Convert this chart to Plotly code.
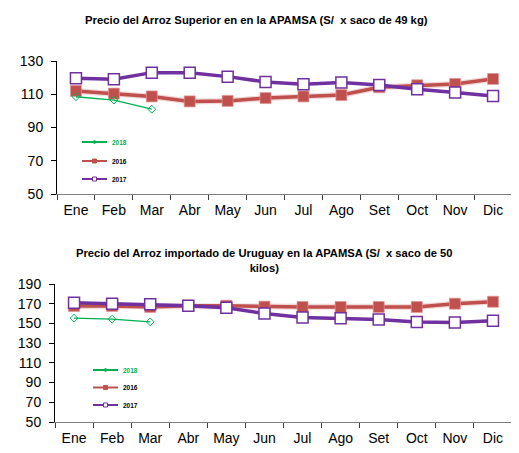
import plotly.graph_objects as go

months = ["Ene", "Feb", "Mar", "Abr", "May", "Jun", "Jul", "Ago", "Set", "Oct", "Nov", "Dic"]

# Chart 1: Arroz Superior (S/ x saco de 49 kg)
sup_2016 = [112.0, 110.4, 108.7, 105.7, 106.0, 107.7, 108.7, 109.5, 114.2, 115.4, 116.2, 119.2]
sup_2017 = [119.6, 119.0, 123.0, 123.0, 120.6, 117.4, 116.0, 117.0, 115.6, 113.0, 111.0, 109.0]
sup_2018 = [108.5, 106.5, 101.0]

# Chart 2: Arroz importado de Uruguay (S/ x saco de 50 kilos)
uru_2016 = [167.7, 167.7, 166.7, 168.0, 168.0, 167.0, 166.7, 166.7, 166.7, 166.7, 170.0, 172.0]
uru_2017 = [171.1, 170.0, 169.4, 168.0, 166.0, 160.0, 156.0, 155.3, 154.0, 151.5, 151.0, 152.6]
uru_2018 = [155.3, 154.3, 151.6]

legend_labels = ["2018", "2016", "2017"]
titles = ["Precio del Arroz Superior en en la APAMSA (S/  x saco de 49 kg)",
          "Precio del Arroz importado de Uruguay en la APAMSA (S/  x saco de 50<br>kilos)"]

# The page body has an 8px margin, so the figure starts at (8, 8) in the window.
OFF = 8
W, H = 519 - OFF, 453 - OFF
C17 = "#7030A0"
C16 = "#C0504D"
C18 = "#00B050"
FONT = "Liberation Sans, Arial, sans-serif"

def px(x):
    return (x - OFF) / W

def py(y):
    return (H - (y - OFF)) / H

fig = go.Figure()

def add_series(xa, ya, v16, v17, v18):
    fig.add_trace(go.Scatter(x=months, y=v16, xaxis=xa, yaxis=ya, mode="lines",
                             line=dict(color="rgba(192,80,77,0.22)", width=6),
                             hoverinfo="skip", showlegend=False))
    fig.add_trace(go.Scatter(x=months, y=v16, xaxis=xa, yaxis=ya, mode="lines+markers",
                             line=dict(color=C16, width=3.5),
                             marker=dict(symbol="square", size=11, color=C16,
                                         line=dict(color="rgba(225,150,150,0.7)", width=1)),
                             name="2016", showlegend=False))
    fig.add_trace(go.Scatter(x=months, y=v17, xaxis=xa, yaxis=ya, mode="lines+markers",
                             line=dict(color=C17, width=3.5),
                             marker=dict(symbol="square", size=11, color="white",
                                         line=dict(color=C17, width=1.5)),
                             name="2017", showlegend=False))
    fig.add_trace(go.Scatter(x=months[:len(v18)], y=v18, xaxis=xa, yaxis=ya, mode="lines+markers",
                             line=dict(color=C18, width=1.3),
                             marker=dict(symbol="diamond-open", size=6, color=C18,
                                         line=dict(width=1)),
                             name="2018", showlegend=False))

add_series("x", "y", sup_2016, sup_2017, sup_2018)
add_series("x2", "y2", uru_2016, uru_2017, uru_2018)

def xaxis_cfg(x0, x1, anchor):
    return dict(domain=[px(x0), px(x1)], anchor=anchor, type="category",
                range=[-0.5, 11.5], showgrid=False, zeroline=False, automargin=False,
                showline=True, linecolor="#7f7f7f", linewidth=1,
                ticks="outside", tickson="boundaries", ticklen=5, tickcolor="#404040",
                tickfont=dict(family=FONT, size=14, color="#000"),
                ticklabelstandoff=3, fixedrange=True)

def yaxis_cfg(y_top, y_bot, rng, anchor):
    return dict(domain=[py(y_bot), py(y_top)], anchor=anchor, range=rng, dtick=20,
                tick0=50, showgrid=False, zeroline=False, showline=True, automargin=False,
                linecolor="#000", linewidth=1, ticks="outside", ticklen=5,
                tickcolor="#000", tickfont=dict(family=FONT, size=14, color="#000"),
                ticklabelstandoff=5, fixedrange=True)

shapes = []
annotations = [
    dict(text="<b>" + titles[0] + "</b>", xref="paper", yref="paper", x=px(256), y=py(20),
         showarrow=False, xanchor="center", yanchor="middle",
         font=dict(family=FONT, size=11.3, color="#000")),
    dict(text="<b>" + titles[1] + "</b>", xref="paper", yref="paper", x=px(264), y=py(260),
         showarrow=False, xanchor="center", yanchor="middle",
         font=dict(family=FONT, size=11.2, color="#000")),
]

def add_legend(x0, rows):
    specs = [(C18, "diamond"), (C16, "filled"), (C17, "open")]
    for (col, kind), lab, yy in zip(specs, legend_labels, rows):
        shapes.append(dict(type="line", xref="paper", yref="paper",
                           x0=px(x0), x1=px(x0 + 25), y0=py(yy), y1=py(yy),
                           line=dict(color=col, width=2)))
        cx = x0 + 12.5
        if kind == "diamond":
            shapes.append(dict(type="path", xref="paper", yref="paper",
                               path=f"M {px(cx-2)} {py(yy)} L {px(cx)} {py(yy-2)} L {px(cx+2)} {py(yy)} L {px(cx)} {py(yy+2)} Z",
                               fillcolor=col, line=dict(color=col, width=0.5)))
        else:
            shapes.append(dict(type="rect", xref="paper", yref="paper",
                               x0=px(cx - 2), x1=px(cx + 2), y0=py(yy + 2), y1=py(yy - 2),
                               fillcolor=col if kind == "filled" else "white",
                               line=dict(color=col, width=1)))
        annotations.append(dict(text="<b>" + lab + "</b>", xref="paper", yref="paper",
                                x=px(x0 + 28), y=py(yy), xanchor="left", yanchor="middle",
                                showarrow=False,
                                font=dict(family=FONT, size=6.5,
                                          color=C18 if kind == "diamond" else "#000")))

add_legend(82, [142, 161, 179])
add_legend(93, [370, 387.5, 405])

fig.update_layout(
    width=W, height=H, margin=dict(l=0, r=0, t=0, b=0, autoexpand=False),
    paper_bgcolor="white", plot_bgcolor="white",
    xaxis=xaxis_cfg(57, 512, "y"),
    yaxis=yaxis_cfg(61, 194, [50, 130], "x"),
    xaxis2=xaxis_cfg(55, 512, "y2"),
    yaxis2=yaxis_cfg(284, 422, [50, 190], "x2"),
    shapes=shapes, annotations=annotations, showlegend=False,
)

fig.write_html("out.html", config={"displayModeBar": False})
